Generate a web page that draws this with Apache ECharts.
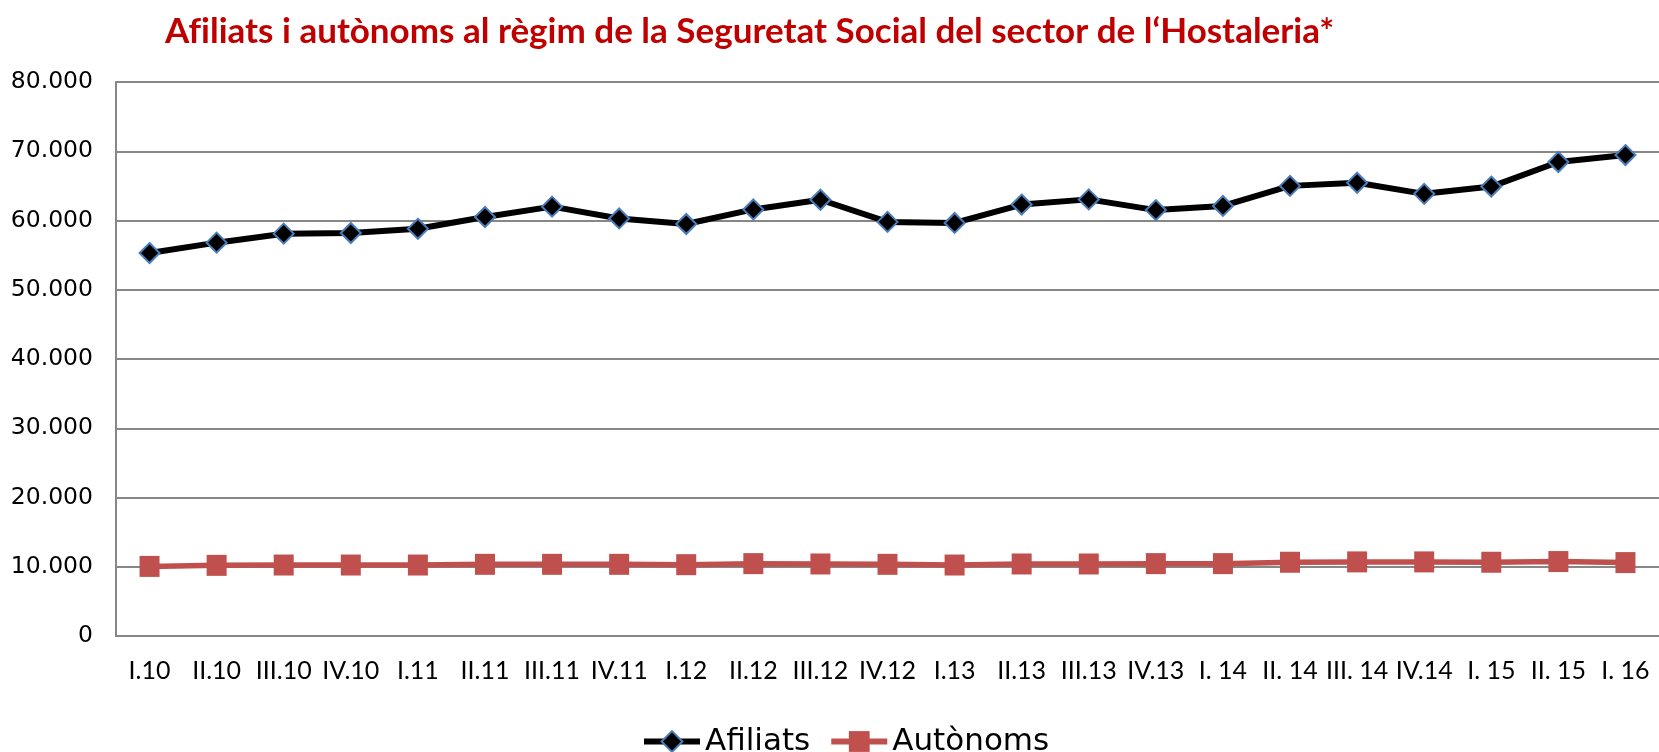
<!DOCTYPE html>
<html>
<head>
<meta charset="utf-8">
<title>Afiliats i autònoms — Hostaleria</title>
<script src="https://cdn.jsdelivr.net/npm/echarts@6/dist/echarts.min.js"></script>
<style>
  html, body { margin: 0; padding: 0; background: #ffffff; }
  #chart { width: 1659px; height: 752px; }
</style>
</head>
<body>
<div id="chart"></div>
<script>
// Quarterly periods (trimestres)
const quarters = [
  'I.10', 'II.10', 'III.10', 'IV.10',
  'I.11', 'II.11', 'III.11', 'IV.11',
  'I.12', 'II.12', 'III.12', 'IV.12',
  'I.13', 'II.13', 'III.13', 'IV.13',
  'I. 14', 'II. 14', 'III. 14', 'IV.14',
  'I. 15', 'II. 15', 'I. 16'
];

// Workers registered with Social Security in the hospitality sector
const afiliats = [
  55300, 56800, 58100, 58200,
  58800, 60500, 62000, 60300,
  59500, 61600, 63000, 59800,
  59650, 62300, 63050, 61500,
  62100, 65000, 65450, 63850,
  64900, 68450, 69450
];

// Self-employed workers in the same sector
const autonoms = [
  10050, 10200, 10250, 10250,
  10250, 10350, 10350, 10350,
  10300, 10450, 10400, 10350,
  10250, 10400, 10400, 10450,
  10450, 10650, 10700, 10700,
  10650, 10750, 10600
];

const yTicks = { min: 0, max: 80000, step: 10000 };

const chart = echarts.init(document.getElementById('chart'), null, { renderer: 'canvas' });

const gray = '#878787';

chart.setOption({
  backgroundColor: '#ffffff',
  animation: false,
  title: {
    // zero-width non-joiner keeps "f" and "i" as separate glyphs
    text: 'Af\u200Ciliats i autònoms al règim de la Seguretat Social del sector de l\u2018Hostaleria*',
    left: 160,
    top: 9,
    textStyle: {
      fontFamily: 'Lato',
      fontWeight: 'bold',
      fontSize: 35,
      color: '#c00000'
    }
  },
  legend: {
    left: 636,
    top: 721,
    itemWidth: 56,
    itemHeight: 26,
    itemGap: 18,
    lineStyle: { width: 6 },
    textStyle: {
      fontFamily: 'DejaVu Sans',
      fontSize: 31,
      color: '#000000'
    },
    data: ['Afiliats', 'Autònoms']
  },
  grid: {
    left: 116,
    right: 0,
    top: 82,
    bottom: 116,
    containLabel: false
  },
  xAxis: {
    type: 'category',
    data: quarters,
    boundaryGap: true,
    axisLine: { lineStyle: { color: gray, width: 2 } },
    axisTick: { show: false },
    axisLabel: {
      interval: 0,
      margin: 22,
      fontFamily: 'Lato',
      fontSize: 25,
      color: '#000000'
    },
    splitLine: { show: false }
  },
  yAxis: {
    type: 'value',
    min: yTicks.min,
    max: yTicks.max,
    interval: yTicks.step,
    axisLine: { show: true, lineStyle: { color: gray, width: 2 } },
    axisTick: { show: false },
    axisLabel: {
      margin: 23,
      fontFamily: 'DejaVu Sans',
      fontSize: 23.5,
      color: '#000000',
      formatter: v => v === 0 ? '0' : v.toLocaleString('de-DE')
    },
    splitLine: { lineStyle: { color: gray, width: 2 } }
  },
  series: [
    {
      name: 'Afiliats',
      type: 'line',
      data: afiliats,
      symbol: 'diamond',
      symbolSize: [20, 20],
      lineStyle: { color: '#000000', width: 6 },
      itemStyle: { color: '#000000', borderColor: '#4a7ebb', borderWidth: 2 },
      z: 3
    },
    {
      name: 'Autònoms',
      type: 'line',
      data: autonoms,
      symbol: 'rect',
      symbolSize: [20, 21],
      lineStyle: { color: '#c0504d', width: 5.5 },
      itemStyle: { color: '#c0504d', borderColor: '#c0504d', borderWidth: 0 },
      z: 2
    }
  ]
});
</script>
</body>
</html>
